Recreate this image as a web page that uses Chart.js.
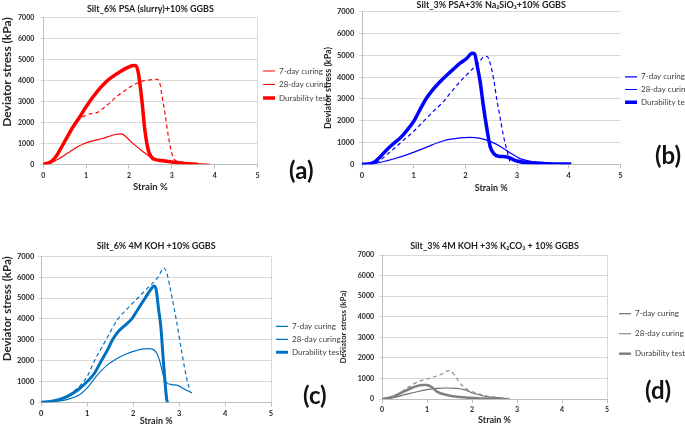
<!DOCTYPE html>
<html>
<head>
<meta charset="utf-8">
<script src="https://cdn.jsdelivr.net/npm/chart.js@4.4.0/dist/chart.umd.min.js"></script>
<style>
  body { margin: 0; width: 685px; height: 426px; overflow: hidden; background: #fff; position: relative; }
  canvas { position: absolute; }
  .tag { position: absolute; font: bold 24px Lato, sans-serif; line-height: 24px; color: #111; }
</style>
</head>
<body>
<canvas id="chartA" width="339" height="197" style="left:0;top:0"></canvas>
<canvas id="chartB" width="383" height="197" style="left:318px;top:0"></canvas>
<canvas id="chartC" width="352" height="190" style="left:0;top:236px"></canvas>
<canvas id="chartD" width="365" height="190" style="left:330px;top:236px"></canvas>
<div class="tag" style="left:289px;top:158px">(a)</div>
<div class="tag" style="left:655px;top:143px">(b)</div>
<div class="tag" style="left:303px;top:383px">(c)</div>
<div class="tag" style="left:645px;top:378px">(d)</div>
<script>
// legenda dan judul
const seriesNames = ['7-day curing', '28-day curing', 'Durability test'];
const panelTitles = [
    'Silt_6% PSA (slurry)+10% GGBS',
    'Silt_3% PSA+3% Na\u2082SiO\u2083+10% GGBS',
    'Silt_6% 4M KOH +10% GGBS',
    'Silt_3% 4M KOH +3% K\u2082CO\u2083 + 10% GGBS'
];
const xTitle = 'Strain %';
const yTitle = 'Deviator stress (kPa)';
const strainMax = 5, strainStep = 1;
const stressMax = 7000, stressStep = 1000;

// (a) PSA slurry
const aStrain7 = [0, 0.16, 0.31, 0.47, 0.62, 0.78, 0.93, 1.09, 1.25, 1.4, 1.56, 1.71, 1.81, 1.91, 2.02, 2.18, 2.33, 2.49, 2.61, 2.8, 3.03, 3.35, 3.66, 3.89];
const aStress7 = [0, 50, 205, 400, 600, 810, 970, 1080, 1160, 1240, 1350, 1430, 1445, 1350, 1130, 840, 600, 365, 205, 127, 80, 48, 16, 0];
const aStrain28 = [0, 0.1, 0.2, 0.3, 0.4, 0.55, 0.7, 0.8, 0.93, 1.09, 1.25, 1.4, 1.56, 1.71, 1.87, 2.02, 2.18, 2.33, 2.49, 2.65, 2.71, 2.76, 2.84, 2.92, 3.0, 3.07, 3.27, 3.5];
const aStress28 = [0, 50, 150, 380, 720, 1270, 1800, 2050, 2270, 2400, 2460, 2670, 2940, 3220, 3460, 3670, 3860, 3970, 4020, 4050, 3940, 3380, 2430, 1320, 520, 200, 95, 30];
const aStrainDur = [0, 0.1, 0.2, 0.3, 0.4, 0.55, 0.7, 0.85, 1.0, 1.15, 1.3, 1.45, 1.6, 1.8, 1.95, 2.1, 2.16, 2.22, 2.3, 2.37, 2.45, 2.53, 2.62, 2.8, 3.0, 3.3, 3.6];
const aStressDur = [0, 50, 150, 380, 720, 1270, 1800, 2260, 2740, 3180, 3570, 3900, 4150, 4420, 4590, 4710, 4700, 4330, 3060, 1630, 680, 330, 220, 170, 110, 40, 0];

// (b) PSA + Na2SiO3
const bStrain7 = [0, 0.28, 0.61, 0.93, 1.25, 1.58, 1.9, 2.09, 2.29, 2.48, 2.68, 2.87, 3.06, 3.32, 3.65, 4.03];
const bStress7 = [0, 60, 245, 490, 790, 1080, 1210, 1240, 1190, 1050, 820, 520, 260, 120, 60, 15];
const bStrain28 = [0, 0.25, 0.35, 0.48, 0.61, 0.8, 1.0, 1.19, 1.38, 1.58, 1.71, 1.9, 2.09, 2.26, 2.35, 2.42, 2.48, 2.55, 2.61, 2.68, 2.74, 2.81, 2.86, 2.88];
const bStress28 = [0, 30, 180, 440, 700, 1100, 1510, 1970, 2430, 2890, 3270, 3800, 4260, 4670, 4920, 4950, 4640, 3880, 2960, 2050, 1280, 600, 140, 0];
const bStrainDur = [0, 0.16, 0.25, 0.35, 0.48, 0.61, 0.74, 0.87, 1.0, 1.12, 1.25, 1.38, 1.51, 1.64, 1.77, 1.9, 2.03, 2.13, 2.18, 2.22, 2.29, 2.35, 2.42, 2.48, 2.55, 2.64, 2.81, 2.9, 3.0, 3.19, 3.58, 4.05];
const bStressDur = [0, 30, 120, 340, 670, 950, 1210, 1560, 1970, 2500, 3040, 3450, 3790, 4090, 4370, 4640, 4870, 5100, 5070, 4640, 3730, 2660, 1590, 820, 490, 370, 340, 245, 150, 75, 30, 15];

// (c) KOH
const cStrain7 = [0, 0.55, 0.84, 1.0, 1.2, 1.42, 1.64, 1.86, 2.08, 2.29, 2.4, 2.51, 2.59, 2.66, 2.73, 2.84, 2.98, 3.13, 3.28];
const cStress7 = [0, 130, 370, 690, 1250, 1760, 2090, 2330, 2490, 2570, 2560, 2360, 1880, 1250, 930, 850, 800, 610, 450];
const cStrain28 = [0, 0.3, 0.55, 0.8, 1.0, 1.16, 1.41, 1.67, 1.9, 2.1, 2.3, 2.54, 2.67, 2.73, 2.84, 2.95, 3.06, 3.17, 3.24];
const cStress28 = [0, 100, 290, 700, 1250, 2000, 3000, 4000, 4550, 5000, 5450, 6000, 6440, 6200, 5080, 3800, 2360, 1090, 520];
const cStrainDur = [0, 0.2, 0.4, 0.6, 0.8, 1.0, 1.15, 1.31, 1.45, 1.55, 1.7, 1.8, 1.97, 2.1, 2.26, 2.38, 2.45, 2.5, 2.55, 2.6, 2.66, 2.73, 2.75];
const cStressDur = [0, 40, 140, 320, 600, 1000, 1370, 2000, 2550, 3000, 3450, 3650, 4000, 4450, 5000, 5400, 5580, 5400, 4500, 3650, 1880, 130, 0];

// (d) KOH + K2CO3
const dStrain7 = [0, 0.25, 0.55, 0.85, 1.03, 1.22, 1.44, 1.66, 1.85, 2.03, 2.26, 2.55, 2.78];
const dStress7 = [0, 65, 240, 390, 470, 520, 535, 520, 440, 280, 145, 65, 15];
const dStrain28 = [0, 0.33, 0.55, 0.77, 0.99, 1.22, 1.37, 1.48, 1.55, 1.66, 1.77, 1.92, 2.11, 2.33, 2.63, 2.85];
const dStress28 = [0, 195, 520, 810, 960, 1120, 1250, 1380, 1330, 1000, 680, 440, 275, 145, 65, 15];
const dStrainDur = [0, 0.25, 0.48, 0.7, 0.88, 0.99, 1.11, 1.22, 1.44, 1.66, 1.96, 2.18, 2.48, 2.65];
const dStressDur = [0, 110, 360, 570, 680, 680, 570, 360, 195, 110, 65, 30, 15, 0];

const FONT = 'Lato, "Open Sans", sans-serif';

function toPoints(xs, ys) {
    return xs.map((x, i) => ({ x: x, y: ys[i] }));
}

function lineSet(label, xs, ys, color, width, dash, order) {
    return {
        label: label,
        data: toPoints(xs, ys),
        showLine: true,
        borderColor: color,
        backgroundColor: color,
        borderWidth: width,
        borderDash: dash,
        pointRadius: 0,
        pointHoverRadius: 0,
        pointStyle: 'line',
        cubicInterpolationMode: 'monotone',
        order: order
    };
}

// p = pengaturan tiap panel
function makePanel(canvasId, p) {
    const ctx = document.getElementById(canvasId).getContext('2d');
    // garis tepi kanan plot hanya pada panel tertentu
    const xGridColor = c => (p.rightBorder && c.tick && c.tick.value === strainMax) ? '#d9d9d9' : 'rgba(0,0,0,0)';
    return new Chart(ctx, {
        type: 'scatter',
        data: {
            datasets: [
                lineSet(seriesNames[0], p.x7, p.y7, p.color7, 1.2, [], 2),
                lineSet(seriesNames[1], p.x28, p.y28, p.color28, 1.2, [4, 3], 1),
                lineSet(seriesNames[2], p.xDur, p.yDur, p.colorDur, p.thick, [], 0)
            ]
        },
        options: {
            responsive: false,
            animation: false,
            devicePixelRatio: 1,
            layout: { padding: 0 },
            scales: {
                x: {
                    type: 'linear', min: 0, max: strainMax,
                    ticks: { stepSize: strainStep, padding: p.xTickPad, color: '#262626', callback: v => String(v), font: { family: FONT, size: p.tickSize, weight: 'bold' } },
                    grid: { drawOnChartArea: true, drawTicks: true, tickLength: 4, color: xGridColor, tickColor: '#bfbfbf' },
                    border: { color: '#bfbfbf' },
                    title: { display: true, text: xTitle, color: '#262626', padding: { top: 0, bottom: p.xTitlePad }, font: { family: FONT, size: p.xTitleSize, weight: 'bold' } },
                    afterFit: s => { s.height = p.xHeight; }
                },
                y: {
                    type: 'linear', min: 0, max: stressMax,
                    ticks: { stepSize: stressStep, padding: p.yTickPad, color: '#262626', callback: v => String(v), font: { family: FONT, size: p.tickSize, weight: 'bold' } },
                    grid: { color: '#d9d9d9', tickLength: 3 },
                    border: { color: '#bfbfbf' },
                    title: { display: true, text: yTitle, align: p.yTitleAlign, color: '#262626', padding: { top: p.yTitlePad, bottom: 0 }, font: { family: FONT, size: p.yTitleSize, weight: 'bold' } },
                    afterFit: s => { s.width = p.yWidth; }
                }
            },
            plugins: {
                tooltip: { enabled: false },
                title: {
                    display: true, text: p.title, fullSize: false, color: '#222',
                    padding: { top: p.titleTop, bottom: p.titleBottom },
                    font: { family: FONT, size: 9, weight: 'bold', lineHeight: 1.2 }
                },
                legend: {
                    display: true, position: 'right', align: 'start', fullSize: false,
                    title: { display: true, text: '', padding: { top: p.legendShift - 9.6, bottom: 0 }, font: { size: 8 } },
                    labels: {
                        usePointStyle: true, pointStyleWidth: 12, padding: p.legendPad, color: '#404040',
                        font: { family: FONT, size: 8 },
                        sort: (a, b) => a.datasetIndex - b.datasetIndex
                    }
                }
            }
        }
    });
}

makePanel('chartA', {
    title: panelTitles[0], titleTop: 3.6, titleBottom: 2.9,
    x7: aStrain7, y7: aStress7, x28: aStrain28, y28: aStress28, xDur: aStrainDur, yDur: aStressDur,
    color7: '#ff0000', color28: '#ff0000', colorDur: '#ff0000', thick: 3.5,
    tickSize: 7, xTickPad: 3.5, yTickPad: 6, xHeight: 32.7, yWidth: 43.3,
    xTitleSize: 9.5, xTitlePad: 4, yTitleSize: 12, yTitlePad: 0, yTitleAlign: 'end',
    legendShift: 44.2, legendPad: 5.5, rightBorder: true
});

makePanel('chartB', {
    title: panelTitles[1], titleTop: 0, titleBottom: 1,
    x7: bStrain7, y7: bStress7, x28: bStrain28, y28: bStress28, xDur: bStrainDur, yDur: bStressDur,
    color7: '#0000ff', color28: '#0000ff', colorDur: '#0000ff', thick: 3.5,
    tickSize: 7.5, xTickPad: 3, yTickPad: 4.7, xHeight: 32.7, yWidth: 44,
    xTitleSize: 9, xTitlePad: 4, yTitleSize: 9, yTitlePad: 4.9, yTitleAlign: 'center',
    legendShift: 56.3, legendPad: 4.7, rightBorder: false
});

makePanel('chartC', {
    title: panelTitles[2], titleTop: 4.9, titleBottom: 4.6,
    x7: cStrain7, y7: cStress7, x28: cStrain28, y28: cStress28, xDur: cStrainDur, yDur: cStressDur,
    color7: '#0070c0', color28: '#0070c0', colorDur: '#0070c0', thick: 3,
    tickSize: 7.5, xTickPad: 2.5, yTickPad: 4, xHeight: 23.7, yWidth: 41.3,
    xTitleSize: 9, xTitlePad: 0, yTitleSize: 11.5, yTitlePad: 0.6, yTitleAlign: 'end',
    legendShift: 61, legendPad: 5, rightBorder: true
});

makePanel('chartD', {
    title: panelTitles[3], titleTop: 4.9, titleBottom: 3.3,
    x7: dStrain7, y7: dStress7, x28: dStrain28, y28: dStress28, xDur: dStrainDur, yDur: dStressDur,
    color7: '#6f6f6f', color28: '#8c8c8c', colorDur: '#808080', thick: 2.5,
    tickSize: 7, xTickPad: 2.5, yTickPad: 5, xHeight: 27, yWidth: 52,
    xTitleSize: 9, xTitlePad: 0.7, yTitleSize: 8, yTitlePad: 8.5, yTitleAlign: 'center',
    legendShift: 42.7, legendPad: 12, rightBorder: true
});
</script>
</body>
</html>
